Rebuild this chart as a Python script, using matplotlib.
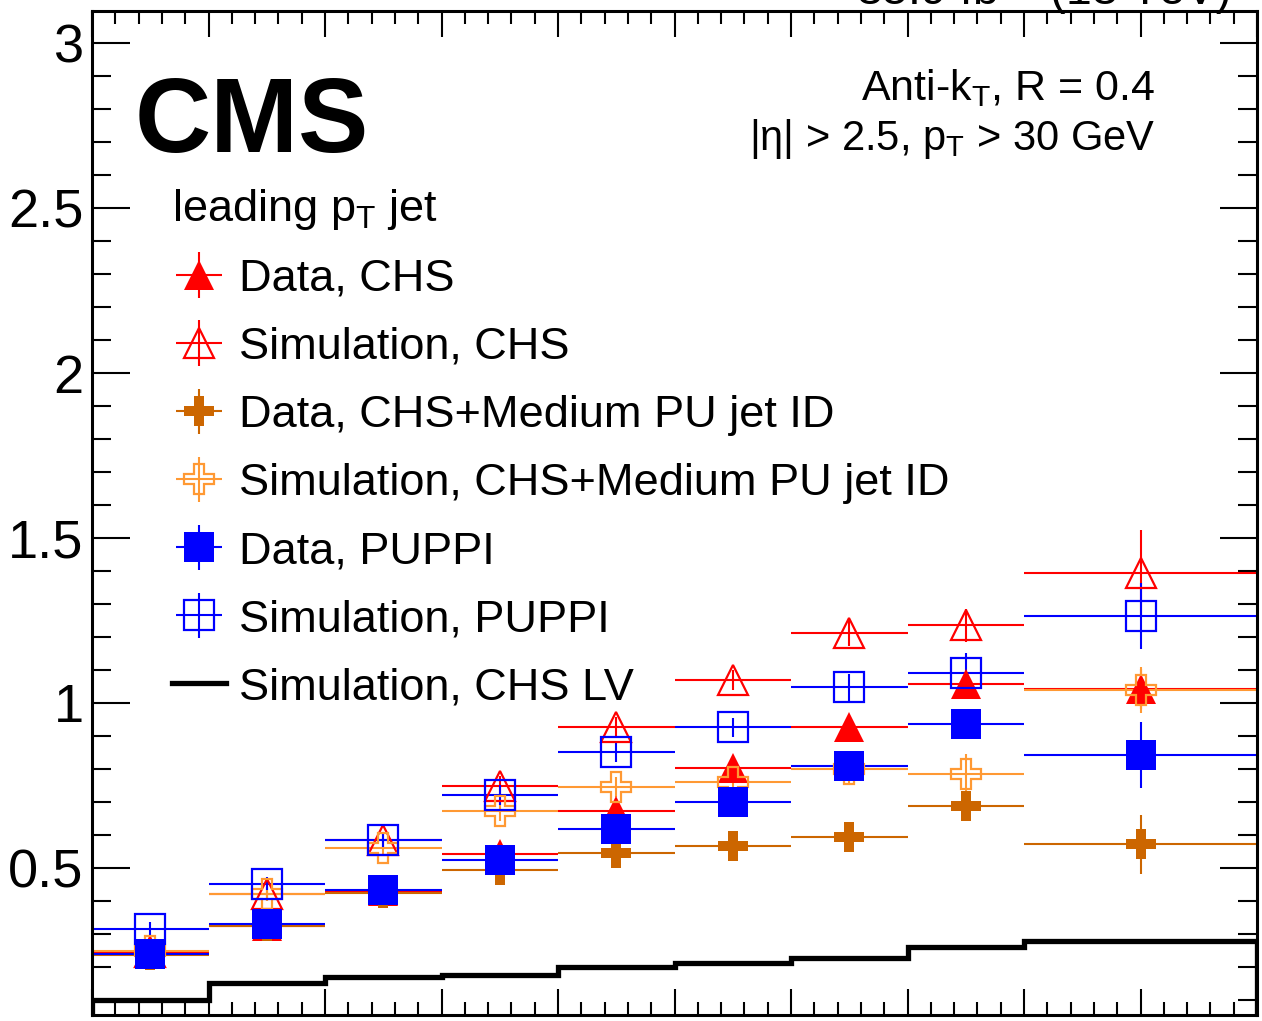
import numpy as np
import matplotlib
matplotlib.use('Agg')
import matplotlib.pyplot as plt
from matplotlib.ticker import MultipleLocator, FuncFormatter

plt.rcParams['font.family'] = ['Liberation Sans', 'DejaVu Sans']
plt.rcParams['mathtext.fontset'] = 'custom'
plt.rcParams['mathtext.rm'] = 'Liberation Sans'
plt.rcParams['mathtext.it'] = 'Liberation Sans'

# Bin edges (number of vertices) and values
bin_edges = [0, 5, 10, 15, 20, 25, 30, 35, 40, 50]

data_chs = [0.243, 0.324, 0.430, 0.542, 0.672, 0.802, 0.927, 1.058, 1.042]
data_chs_err = [0.02, 0.02, 0.02, 0.02, 0.03, 0.03, 0.03, 0.04, 0.06]
sim_chs = [0.245, 0.421, 0.585, 0.749, 0.928, 1.069, 1.213, 1.236, 1.393]
sim_chs_err = [0.02, 0.02, 0.02, 0.03, 0.03, 0.03, 0.04, 0.05, 0.13]
data_med = [0.235, 0.324, 0.424, 0.494, 0.546, 0.567, 0.595, 0.688, 0.572]
data_med_err = [0.02, 0.02, 0.02, 0.02, 0.03, 0.03, 0.03, 0.04, 0.09]
sim_med = [0.248, 0.421, 0.562, 0.673, 0.745, 0.760, 0.799, 0.785, 1.039]
sim_med_err = [0.02, 0.02, 0.02, 0.03, 0.03, 0.03, 0.04, 0.06, 0.07]
data_puppi = [0.240, 0.329, 0.433, 0.524, 0.617, 0.699, 0.809, 0.937, 0.841]
data_puppi_err = [0.02, 0.02, 0.02, 0.02, 0.03, 0.03, 0.03, 0.04, 0.10]
sim_puppi = [0.315, 0.452, 0.585, 0.721, 0.852, 0.926, 1.047, 1.090, 1.264]
sim_puppi_err = [0.02, 0.02, 0.02, 0.03, 0.03, 0.03, 0.04, 0.06, 0.10]
sim_chs_lv = [0.100, 0.150, 0.170, 0.176, 0.201, 0.211, 0.226, 0.262, 0.279]

labels = ['Data, CHS', 'Simulation, CHS', 'Data, CHS+Medium PU jet ID',
          'Simulation, CHS+Medium PU jet ID', 'Data, PUPPI', 'Simulation, PUPPI',
          'Simulation, CHS LV']

edges = np.array(bin_edges, dtype=float)
centers = 0.5 * (edges[1:] + edges[:-1])
halfw = 0.5 * (edges[1:] - edges[:-1])

fig = plt.figure(figsize=(12.62, 10.21), dpi=100)
ax = fig.add_axes([92 / 1262, 6 / 1021, 1165 / 1262, 1004 / 1021])

red = '#ff0000'
dorange = '#cc6600'
lorange = '#ff9933'
blue = '#0000ff'

series = [
    (data_chs, data_chs_err, '^', red, True),
    (sim_chs, sim_chs_err, '^', red, False),
    (data_med, data_med_err, 'P', dorange, True),
    (sim_med, sim_med_err, 'P', lorange, False),
    (data_puppi, data_puppi_err, 's', blue, True),
    (sim_puppi, sim_puppi_err, 's', blue, False),
]

handles = []
for (vals, errs, mk, col, filled), lab in zip(series, labels):
    h = ax.errorbar(centers, vals, xerr=halfw, yerr=errs, fmt=mk, color=col,
                    ms=22, mfc=col if filled else 'none', mec=col,
                    mew=0 if filled else 1.6, elinewidth=1.5, capsize=0,
                    label=lab)
    handles.append(h)

ax.stairs(sim_chs_lv, edges, color='black', linewidth=3.8, label=labels[-1])
handles.append(plt.Line2D([], [], color='black', linewidth=3.8))

ax.set_xlim(0, 50)
ax.set_ylim(0.0545, 3.097)

ax.xaxis.set_major_locator(MultipleLocator(5))
ax.xaxis.set_minor_locator(MultipleLocator(1))
ax.yaxis.set_major_locator(MultipleLocator(0.5))
ax.yaxis.set_minor_locator(MultipleLocator(0.1))
ax.yaxis.set_major_formatter(FuncFormatter(lambda v, p: f'{v:g}'))
ax.tick_params(axis='both', which='both', direction='in', top=True, right=True)
ax.tick_params(axis='x', which='major', length=19, width=1.5, labelbottom=False)
ax.tick_params(axis='x', which='minor', length=9.5, width=1.5)
ax.tick_params(axis='y', which='major', length=27, width=1.5, labelsize=39, pad=6)
ax.tick_params(axis='y', which='minor', length=13.5, width=1.5)
for sp in ax.spines.values():
    sp.set_linewidth(2.2)

ax.text(0.037, 0.8596, 'CMS', transform=ax.transAxes, fontsize=76,
        fontweight='bold', ha='left', va='baseline')
ax.text(0.9124, 0.911, r'Anti-k$_{\mathrm{T}}$, R = 0.4', transform=ax.transAxes,
        fontsize=31, ha='right', va='baseline')
ax.text(0.9124, 0.8616, r'|η| > 2.5, p$_{\mathrm{T}}$ > 30 GeV', transform=ax.transAxes,
        fontsize=30, ha='right', va='baseline')
fig.text(1230 / 1262, 1 - 5 / 1021, r'35.9 fb$^{-1}$ (13 TeV)', fontsize=33.5,
         ha='right', va='baseline')

leg = ax.legend(handles, labels, loc='upper left', bbox_to_anchor=(0.0686, 0.825),
                frameon=False, fontsize=32.5, title=r'leading p$_{\mathrm{T}}$ jet',
                title_fontsize=32.5, alignment='left', handlelength=1.2,
                handletextpad=0.28, labelspacing=0.6, borderpad=0, borderaxespad=0)

fig.savefig('out.png', dpi=100)
